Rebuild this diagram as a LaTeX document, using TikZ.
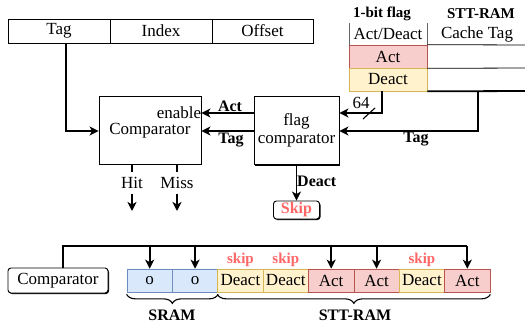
\documentclass[tikz,border=0pt]{standalone}
\usepackage{fontspec}
\setmainfont{Liberation Serif}
\usetikzlibrary{arrows.meta,decorations.pathreplacing,shadows}
\definecolor{actfill}{HTML}{F8CECC}
\definecolor{actline}{HTML}{B85450}
\definecolor{deafill}{HTML}{FFF2CC}
\definecolor{dealine}{HTML}{D6B656}
\definecolor{sramfill}{HTML}{DAE8FC}
\definecolor{sramline}{HTML}{6C8EBF}
\definecolor{skipred}{HTML}{FF6666}
\tikzset{
  txt/.style={font=\fontsize{17}{20}\selectfont},
  btxt/.style={font=\fontsize{16}{19}\selectfont\bfseries},
  hdr/.style={font=\fontsize{15}{18}\selectfont\bfseries},
  cellbox/.style={draw, line width=0.7pt, inner sep=0, txt},
  blockbox/.style={draw, line width=0.9pt, fill=white, inner sep=0, txt,
    drop shadow={shadow xshift=1pt, shadow yshift=-1pt, fill=black, opacity=1}},
  roundbox/.style={blockbox, rounded corners=3pt},
  wire/.style={line width=1.9pt},
  conn/.style={wire, -{Stealth[length=9pt,width=9pt,inset=2.5pt]}},
  actcell/.style={cellbox, fill=actfill, draw=actline},
  deacell/.style={cellbox, fill=deafill, draw=dealine},
  sramcell/.style={cellbox, fill=sramfill, draw=sramline},
  skiplbl/.style={font=\fontsize{15}{18}\selectfont\bfseries, text=skipred, inner sep=0},
  curly/.style={line width=1.1pt, decorate, decoration={brace, mirror, amplitude=9pt}},
}
\begin{document}
\begin{tikzpicture}[x=1pt, y=-1pt]
\useasboundingbox (0,0) rectangle (525,324);

% address fields
\node[cellbox, minimum width=102pt, minimum height=24pt] (tag) at (59,31) {Tag};
\node[cellbox, minimum width=102pt, minimum height=24pt] (idx) at (161,31) {Index};
\node[cellbox, minimum width=101pt, minimum height=24pt] (off) at (262.5,31) {Offset};
\draw[line width=1.6pt] (tag.south west) -- (off.south east);

% flag table
\node[hdr] (flaghdr) at (382,14) {1-bit flag};
\node[hdr] (stthdr) at (481,14) {STT-RAM};
\node[txt] (adhdr) at (388,34) {Act/Deact};
\node[txt] (cthdr) at (477,34) {Cache Tag};
\draw[black!60, line width=0.7pt] (349,23) -- (349,45) (427,23) -- (427,45);
\node[actcell, minimum width=78pt, minimum height=23pt] (tact) at (388,56.5) {Act};
\node[deacell, minimum width=78pt, minimum height=23pt] (tdea) at (388,79.5) {Deact};
\draw[line width=0.8pt] (tact.north east) -- (525,45) (tact.south east) -- (525,68);
\draw[line width=1.8pt] (tdea.south east) -- (525,91);

% comparators
\node[blockbox, minimum width=102pt, minimum height=68pt] (cmp) at (150,130) {};
\node[txt, inner sep=0] (enable) at (179,113) {enable};
\node[txt, inner sep=0] (cmptxt) at (150,131) {Comparator};
\node[blockbox, minimum width=85pt, minimum height=68pt, align=center] (fc) at (296.5,130.5)
  {flag\\[-2pt]comparator};

\coordinate (actY) at (0,113);
\coordinate (tagY) at (0,131);
\coordinate (tap64) at (382,91);
\coordinate (tapTag) at (478,91);

\draw[conn] ([xshift=7pt]tag.south) |- (cmp.west |- tagY);
\draw[conn] (fc.west |- actY) -- (cmp.east |- actY);
\draw[conn] (fc.west |- tagY) -- (cmp.east |- tagY);
\node[btxt] (lact) at (230,106) {Act};
\node[btxt] (ltag) at (231,140) {Tag};

\draw[conn] (tap64) |- (fc.east |- actY);
\draw[line width=1.1pt] (363,119) -- (375,108);
\node[txt] (w64) at (361,103) {64};
\draw[conn] (tapTag) |- (fc.east |- tagY);
\node[btxt] (rtag) at (416,139) {Tag};

% hit / miss outputs
\node[txt, inner sep=0, text height=11pt, text depth=0pt] (hit) at (132,183) {Hit};
\node[txt, inner sep=0, text height=11pt, text depth=0pt] (miss) at (177,183) {Miss};
\coordinate (hitEnd) at (132,211);
\coordinate (missEnd) at (177,211);
\draw[wire] (cmp.south -| hit) -- ([yshift=5pt]hit.north);
\draw[wire] (cmp.south -| miss) -- ([yshift=5pt]miss.north);
\draw[conn] ([yshift=-5pt]hit.south) -- (hitEnd);
\draw[conn] ([yshift=-5pt]miss.south) -- (missEnd);

% deactivated path
\node[roundbox, minimum width=46pt, minimum height=18pt,
      font=\fontsize{16}{18}\selectfont\bfseries, text=skipred] (skip) at (296.5,210) {Skip};
\draw[conn] (fc.south) -- (skip.north);
\node[btxt, anchor=west, inner sep=0] (ldeact) at (297,181) {Deact};

% cache line ways
\node[roundbox, minimum width=100pt, minimum height=25pt] (cmp2) at (58,280.5) {Comparator};
\foreach \i/\lab/\sty in {1/o/sramcell, 2/o/sramcell, 3/Deact/deacell, 4/Deact/deacell,
                          5/Act/actcell, 6/Act/actcell, 7/Deact/deacell, 8/Act/actcell}
  \node[\sty, minimum width=45.4pt, minimum height=23pt] (c\i) at (104.3+45.375*\i,280.5) {\lab};

\coordinate (busY) at (0,246);
\coordinate (skipY) at (0,260);
\draw[wire] ([xshift=5pt]cmp2.north) |- (c8.north |- busY);
\foreach \i in {1,2,5,6,8}
  \draw[conn] (c\i.north |- busY) -- (c\i.north);
\foreach \i in {3,4,7}
  \node[skiplbl] (sk\i) at (c\i |- skipY) {skip};

\draw[curly] ([yshift=-2pt]c1.south west) -- ([yshift=-2pt]c2.south east);
\draw[curly] ([yshift=-2pt]c3.south west) -- ([yshift=-2pt]c8.south east);
\node[btxt] (lsram) at (172,315) {SRAM};
\node[btxt] (lstt) at (355,315) {STT-RAM};
\end{tikzpicture}
\end{document}
